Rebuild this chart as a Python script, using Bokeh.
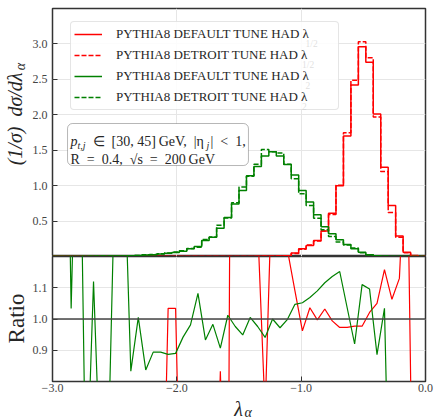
import numpy as np
from bokeh.plotting import figure
from bokeh.models import (Label, BoxAnnotation, Span, Legend, LegendItem, FixedTicker, Range1d,
                          PrintfTickFormatter)
from bokeh.layouts import column, row
from bokeh.embed import file_html
from bokeh.resources import INLINE

# ---------------- data ----------------
bin_edges = np.linspace(-3.0, 0.0, 51)          # 50 bins of width 0.06
bin_centers = 0.5 * (bin_edges[:-1] + bin_edges[1:])

green_default = [0.0003, 0.0005, 0.0008, 0.001, 0.0015, 0.002, 0.003, 0.004, 0.006, 0.008,
                 0.01, 0.015, 0.02, 0.025, 0.035, 0.045, 0.055, 0.075, 0.11, 0.14,
                 0.225, 0.27, 0.40, 0.55, 0.74, 0.93, 1.14, 1.27, 1.42, 1.48,
                 1.42, 1.30, 1.15, 0.93, 0.77, 0.59, 0.42, 0.32, 0.235, 0.17,
                 0.11, 0.06, 0.025, 0.01, 0.004, 0.0, 0.0, 0.0, 0.0, 0.0]
green_detroit = [0.00015, 0.0002, 0.0008, 0.0005, 0.0038, 0.0018, 0.0067, 0.0067, 0.0038, 0.005,
                 0.012, 0.015, 0.024, 0.028, 0.039, 0.051, 0.062, 0.080, 0.112, 0.129,
                 0.241, 0.275, 0.441, 0.543, 0.758, 0.98, 1.134, 1.301, 1.509, 1.48,
                 1.461, 1.301, 1.098, 0.884, 0.720, 0.541, 0.376, 0.282, 0.204, 0.164,
                 0.12, 0.054, 0.023, 0.011, 0.0039, 0.001, 0.0005, 0.0, 0.0, 0.0]
red_default = [0.0] * 15 + [0.0003, 0.0003, 0.0, 0.0, 0.0, 0.0, 0.0, 0.0, 0.0005, 0.0,
                            0.001, 0.0015, 0.002, 0.003, 0.003, 0.006, 0.012, 0.05, 0.11, 0.155,
                            0.225, 0.36, 0.61, 1.0, 1.70, 2.42, 2.96, 2.74, 2.01, 1.26,
                            0.72, 0.29, 0.06, 0.015, 0.0]
red_detroit = [0.0] * 14 + [0.0003, 0.00029, 0.00029, 0.0003, 0.0003, 0.0004, 0.0004, 0.0005, 0.0006,
                            0.0006, 0.0008, 0.0002, 0.0005, 0.0007, 0.0023, 0.0043, 0.004, 0.0086,
                            0.041, 0.101, 0.161, 0.217, 0.361, 0.591, 1.006, 1.747, 2.487, 3.03,
                            2.804, 1.969, 1.2, 0.622, 0.273, 0.053, 0.009, 0.001]

green_ratio = [2.0, 2.5, 1.034, 2.0, 0.4, 1.12, 0.45, 0.6, 1.6, 1.6,
               0.833, 1.005, 0.837, 0.894, 0.894, 0.887, 0.89, 0.942, 0.981, 1.082,
               0.933, 0.983, 0.907, 1.012, 0.976, 0.949, 1.005, 0.976, 0.941, 1.0,
               0.972, 0.999, 1.047, 1.052, 1.069, 1.09, 1.116, 1.136, 1.152, 1.036,
               0.92, 1.11, 1.096, 0.886, 1.034, 0.0, 0.0, 0.0, 0.0, 0.0]
red_ratio = [0.0] * 15 + [1.034, 1.034, 0.0, 0.0, 0.0, 0.0, 0.0, 0.833, 0.0, 5.0,
                          3.0, 3.0, 1.3, 0.7, 1.5, 1.4, 1.22, 1.09, 0.962, 1.036,
                          0.997, 1.032, 0.994, 0.973, 0.973, 0.977, 0.977, 1.021, 1.05, 1.158,
                          1.063, 1.13, 1.65, 0.0]

x_ticks = [-3.0, -2.0, -1.0, 0.0]
x_tick_labels = ["\u22123.0", "\u22122.0", "\u22121.0", "0.0"]
top_y_ticks = [0.5, 1.0, 1.5, 2.0, 2.5, 3.0]
ratio_y_ticks = [0.9, 1.0, 1.1]
legend_labels = ["PYTHIA8 DEFAULT TUNE HAD \u03bb", "PYTHIA8 DETROIT TUNE HAD \u03bb",
                 "PYTHIA8 DEFAULT TUNE HAD \u03bb", "PYTHIA8 DETROIT TUNE HAD \u03bb"]
legend_subs = ["1/2", "1/2", "2", "2"]

RED = "#ff0000"
GREEN = "#008000"
SERIF = "Liberation Serif"
TXT = "#262626"


def step_y(vals):
    return list(vals) + [vals[-1]]


def style(p):
    p.outline_line_color = "#333333"
    p.outline_line_width = 1.5
    p.background_fill_color = "white"
    p.border_fill_color = "white"
    for ax in p.axis:
        ax.axis_line_color = None
        ax.major_tick_in = 5
        ax.major_tick_out = 0
        ax.minor_tick_line_color = None
        ax.major_tick_line_color = "#333333"
        ax.major_label_text_font = SERIF
        ax.major_label_text_font_size = "12px"
        ax.major_label_text_color = "#444444"
    p.grid.grid_line_color = "#e6e6e6"
    p.grid.grid_line_width = 1


def lab(p, x, y, text, size, style="normal", angle=0, align="left", baseline="alphabetic",
        units="screen"):
    p.add_layout(Label(x=x, y=y, x_units=units, y_units=units, text=text,
                       angle=angle, angle_units="deg", text_font=SERIF, text_font_size=size,
                       text_font_style=style, text_align=align, text_baseline=baseline,
                       text_color=TXT))


def strip(w, h):
    s = figure(width=w, height=h, x_range=Range1d(0, w), y_range=Range1d(0, h),
               x_axis_type=None, y_axis_type=None, output_backend="svg", toolbar_location=None,
               min_border=0, min_border_left=0, min_border_right=0, min_border_top=0,
               min_border_bottom=0)
    s.title.visible = False
    s.outline_line_color = None
    s.background_fill_color = "white"
    s.border_fill_color = "white"
    return s


# ---------------- top panel ----------------
top = figure(frame_width=373, frame_height=248, x_range=Range1d(-3.0, 0.0), y_range=Range1d(0.0, 3.5),
             output_backend="svg", toolbar_location=None, min_border_left=24, min_border_right=10,
             min_border_top=8, min_border_bottom=0)
style(top)
top.xaxis.visible = False
top.yaxis.ticker = FixedTicker(ticks=top_y_ticks)
top.yaxis.formatter = PrintfTickFormatter(format="%.1f")
top.yaxis.major_label_standoff = 5
top.xgrid.ticker = FixedTicker(ticks=x_ticks)
top.ygrid.ticker = FixedTicker(ticks=top_y_ticks)

r1 = top.step(bin_edges, step_y(red_default), mode="after", line_color=RED, line_width=1.5)
r2 = top.step(bin_edges, step_y(red_detroit), mode="after", line_color=RED, line_width=1.5, line_dash="5 2")
r3 = top.step(bin_edges, step_y(green_default), mode="after", line_color=GREEN, line_width=1.5)
r4 = top.step(bin_edges, step_y(green_detroit), mode="after", line_color=GREEN, line_width=1.5, line_dash="5 2")

legend = Legend(items=[LegendItem(label=t, renderers=[r]) for t, r in zip(legend_labels, [r1, r2, r3, r4])],
                location=(18, 146), padding=3, spacing=3, label_height=18, glyph_height=18,
                glyph_width=28, label_standoff=14, label_width=219, margin=0,
                label_text_font=SERIF, label_text_font_size="13px", label_text_color=TXT,
                border_line_color="#cccccc", border_line_width=1,
                background_fill_color="white", background_fill_alpha=0.85)
if "border_radius" in Legend.properties():
    legend.border_radius = 4
top.add_layout(legend)

# legend subscripts
for sub, sx, sy in zip(legend_subs, [253, 249.5, 253, 249.5], [213, 192, 171, 150]):
    lab(top, sx, sy, sub, "9.5px", baseline="middle")

# info box
box = BoxAnnotation(left=-2.879, right=-1.424, top=1.877, bottom=1.284,
                    fill_color="white", fill_alpha=1.0, line_color="#111111", line_width=1)
if "border_radius" in BoxAnnotation.properties():
    box.border_radius = 5
top.add_layout(box)
lab(top, 18, 115, "p", "14px", style="italic")
lab(top, 25, 111, "t,j", "10px", style="italic")
lab(top, 33, 115, "\u2002\u2208\u2002[30, 45]\u2009GeV,\u2002|\u03b7", "14px")
lab(top, 154, 111, "j", "10px", style="italic")
lab(top, 158, 115, "|\u2002<\u20021,", "14px")
lab(top, 18, 97, "R\u2002=\u20020.4,\u2002\u221as\u2002=\u2002200\u2009GeV", "14px")

# ---------------- ratio panel ----------------
bot = figure(frame_width=373, frame_height=125, x_range=top.x_range, y_range=Range1d(0.8, 1.2),
             output_backend="svg", toolbar_location=None, min_border_left=24, min_border_right=10,
             min_border_top=0, min_border_bottom=17)
style(bot)
bot.xaxis.ticker = FixedTicker(ticks=x_ticks)
bot.xaxis.major_label_overrides = {t: s for t, s in zip(x_ticks, x_tick_labels)}
bot.xaxis.major_label_standoff = 2
bot.yaxis.ticker = FixedTicker(ticks=ratio_y_ticks)
bot.yaxis.formatter = PrintfTickFormatter(format="%.1f")
bot.yaxis.major_label_standoff = 5
bot.xgrid.ticker = FixedTicker(ticks=x_ticks)
bot.ygrid.ticker = FixedTicker(ticks=ratio_y_ticks)

bot.line(bin_centers, red_ratio, line_color=RED, line_width=1.2)
bot.line(bin_centers, green_ratio, line_color=GREEN, line_width=1.2)
bot.add_layout(Span(location=1.0, dimension="width", line_color="#444444", line_width=1.5))

# ---------------- label strips (axis titles with subscripts) ----------------
ystrip = strip(28, 419)      # data units == pixels, y measured from the bottom
lab(ystrip, 14, 347, "(1/\u03c3)\u2002d\u03c3/d\u03bb", "20px",
    style="italic", angle=90, align="right", baseline="middle", units="data")
lab(ystrip, 19.5, 353, "\u03b1", "14px", style="italic", angle=90, align="center",
    baseline="middle", units="data")
lab(ystrip, 16, 101, "Ratio", "23px", angle=90, align="center", baseline="middle", units="data")

xstrip = strip(407, 21)
lab(xstrip, 203, 11, "\u03bb", "20px", style="italic", align="center", baseline="middle", units="data")
lab(xstrip, 213.5, 7, "\u03b1", "14px", style="italic", align="center", baseline="middle", units="data")

layout = row(ystrip, column(top, bot, xstrip, spacing=0), spacing=0)
open("out.html", "w").write(file_html(layout, INLINE))
